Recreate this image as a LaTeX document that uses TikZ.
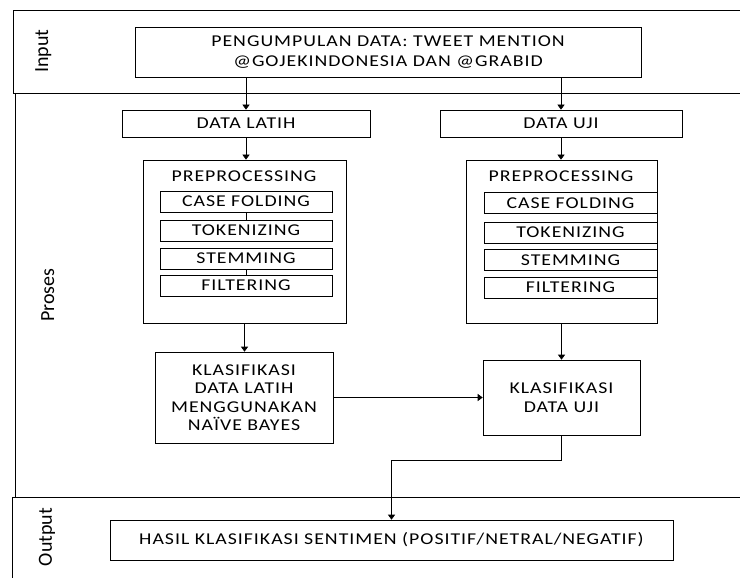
\documentclass[tikz,border=0pt]{standalone}
\usepackage{fontspec}
\setmainfont{Carlito}
\newfontfamily\boxfont[FakeStretch=1.2, LetterSpace=6]{Carlito}
\usetikzlibrary{arrows.meta, positioning, calc}

\begin{document}
\begin{tikzpicture}[x=1pt, y=1pt,
    box/.style={draw, line width=0.6pt, align=center, inner sep=0pt,
        font=\boxfont\fontsize{16.5}{18.5}\selectfont},
    sub/.style={box, minimum height=21},
    arr/.style={-{Triangle[length=5pt, width=7pt]}, line width=0.6pt},
    band/.style={line width=0.9pt},
    lbl/.style={rotate=90, anchor=base, font=\fontsize{20}{24}\selectfont}]
    \useasboundingbox (0,0) rectangle (740,-578);
    % frame
    \draw[band] (740,-10) -- (13,-10) -- (13,-93) -- (740,-93);
    \draw[band] (15,-93) -- (15,-497);
    \draw[band] (740,-497) -- (12,-497) -- (12,-578);
    \node[lbl] (input) at (48,-51) {Input};
    \node[lbl] (proses) at (54,-295) {Proses};
    \node[lbl] (output) at (52,-537) {Output};

    % input
    \node[box, minimum width=506, minimum height=50] (kumpul) at (388,-52)
        {PENGUMPULAN DATA: TWEET MENTION\\[1pt]@GOJEKINDONESIA DAN @GRABID};

    % proses
    \node[box, minimum width=248, minimum height=27] (latih) at (246,-123.5) {DATA LATIH};
    \node[box, minimum width=242, minimum height=27] (uji) at (561,-123.5) {DATA UJI};
    \node[box, minimum width=203, minimum height=163] (preL) at (244.5,-241.5) {};
    \node[box, minimum width=191, minimum height=163] (preR) at (561.5,-241.5) {};
    \node[box, draw=none] (preLt) at (244,-176) {PREPROCESSING};
    \node[box, draw=none] (preRt) at (561,-176) {PREPROCESSING};

    \node[sub, minimum width=172] (caseL) at (246,-201.5) {CASE FOLDING};
    \node[sub, minimum width=172] (tokL) at (246,-230.5) {TOKENIZING};
    \node[sub, minimum width=172] (stemL) at (246,-258.5) {STEMMING};
    \node[sub, minimum width=172] (filL) at (246,-285.5) {FILTERING};
    \draw[line width=0.6pt] (caseL) -- (tokL);
    \draw[line width=0.6pt] (stemL) -- (filL);

    \node[sub, minimum width=173] (caseR) at (570.5,-203) {CASE FOLDING};
    \node[sub, minimum width=173] (tokR) at (570.5,-232.5) {TOKENIZING};
    \node[sub, minimum width=173] (stemR) at (570.5,-260) {STEMMING};
    \node[sub, minimum width=173] (filR) at (570.5,-287.5) {FILTERING};

    \node[box, minimum width=178, minimum height=91] (klasL) at (244,-397.5)
        {KLASIFIKASI\\DATA LATIH\\MENGGUNAKAN\\NAÏVE BAYES};
    \node[box, minimum width=157, minimum height=75] (klasU) at (561.5,-397.5)
        {KLASIFIKASI\\DATA UJI};

    % output
    \node[box, minimum width=563, minimum height=40] (hasil) at (391.5,-540)
        {HASIL KLASIFIKASI SENTIMEN (POSITIF/NETRAL/NEGATIF)};

    % arrows
    \draw[arr] (latih.north |- kumpul.south) -- (latih.north);
    \draw[arr] (uji.north |- kumpul.south) -- (uji.north);
    \draw[arr] (latih) -- (preL.north -| latih);
    \draw[arr] (uji) -- (preR.north -| uji);
    \draw[arr] (preL.south) -- (klasL.north -| preL.south);
    \draw[arr] (preR.south) -- (klasU.north -| preR.south);
    \draw[arr] (klasL) -- (klasU);
    \draw[arr] (klasU.south) -- ++(0,-25) -| (hasil.north);
\end{tikzpicture}
\end{document}
